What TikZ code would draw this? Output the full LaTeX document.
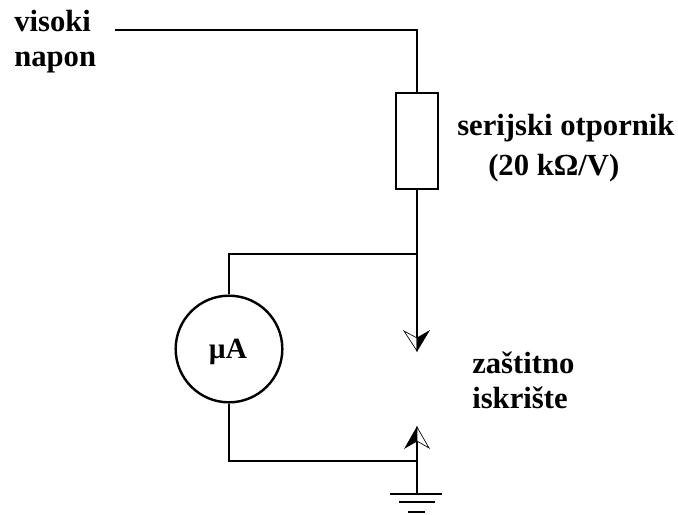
\documentclass[tikz,border=0pt]{standalone}
\usepackage{fontspec}
\setmainfont{Liberation Serif}
\tikzset{
  wire/.style={line width=1.5pt,black},
  lbl/.style={font=\bfseries\fontsize{23}{26}\selectfont,inner sep=0pt,anchor=base west,align=left},
  halfwhite/.style={draw=black,line width=0.5pt,fill=white},
  halfblack/.style={draw=black,line width=0.5pt,fill=black}
}
\begin{document}
\begin{tikzpicture}[x=0.75pt,y=-0.75pt]
\useasboundingbox (0,0) rectangle (678,514);
\fill[white] (0,0) rectangle (678,514);
% resistor and meter
\node[draw=black,line width=1.5pt,minimum width=31.5pt,minimum height=72pt,inner sep=0pt] (R) at (417,141) {};
\node[draw=black,line width=1.8pt,circle,minimum size=80pt,inner sep=0pt] (M) at (229,349) {};
\node[font=\bfseries\fontsize{22}{24}\selectfont,inner sep=0pt,anchor=base] (ML) at (228,358) {µA};
% free points
\coordinate (hv) at (115,30);
\coordinate (corner) at (417,30);
\coordinate (junction) at (417,254);
\coordinate (jl) at (229,254);
\coordinate (bl) at (229,461);
\coordinate (br) at (417,461);
\coordinate (tiptop) at (417,338);
\coordinate (gndtop) at (417,494);
\coordinate (tipbot) at (417,441);
% wires
\draw[wire] (hv) -- (corner) -- (R.north);
\draw[wire] (R.south) -- (junction) -- (tiptop);
\draw[wire] (junction) -- (jl) -- (M.north);
\draw[wire] (M.south) -- (bl) -- (br);
\draw[wire] (gndtop) -- (tipbot);
% upper arrow head
\draw[halfwhite] (417,351) -- (404,331) -- (417,338) -- cycle;
\draw[halfblack] (417,351) -- (429,331) -- (417,338) -- cycle;
% lower arrow head
\draw[halfblack] (417,427) -- (405,448) -- (417,441) -- cycle;
\draw[halfwhite] (417,427) -- (429,448) -- (417,441) -- cycle;
% ground
\coordinate (g1l) at (390,494); \coordinate (g1r) at (442,494);
\coordinate (g2l) at (399,502); \coordinate (g2r) at (435,502);
\coordinate (g3l) at (408,512); \coordinate (g3r) at (425,512);
\draw[wire] (g1l) -- (g1r);
\draw[wire] (g2l) -- (g2r);
\draw[wire] (g3l) -- (g3r);
% labels
\node[lbl] (t1) at (14,66) {visoki\\napon};
\node[lbl] (t2) at (457,135) {serijski otpornik};
\node[lbl] (t3) at (488,175) {(20 kΩ/V)};
\node[lbl] (t4) at (472,408) {zaštitno\\iskrište};
\end{tikzpicture}
\end{document}
